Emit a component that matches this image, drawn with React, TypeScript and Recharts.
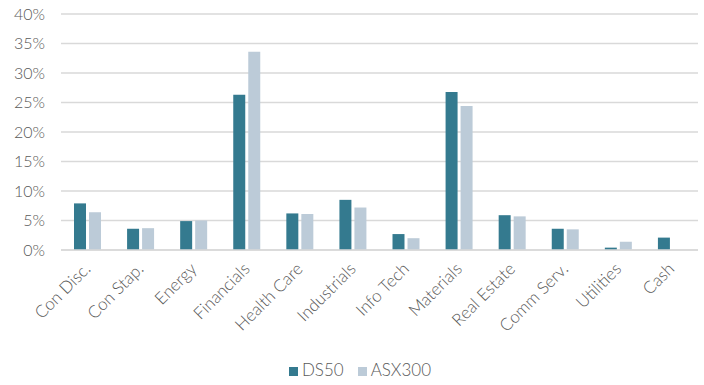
import { BarChart, Bar, XAxis, YAxis, CartesianGrid, Legend } from 'recharts'

// sector weights (percent)
const sectors = ['Con Disc.', 'Con Stap.', 'Energy', 'Financials', 'Health Care', 'Industrials', 'Info Tech', 'Materials', 'Real Estate', 'Comm Serv.', 'Utilities', 'Cash']
const ds50 = [7.9, 3.6, 4.9, 26.3, 6.2, 8.5, 2.7, 26.8, 5.9, 3.6, 0.4, 2.1]
const asx300 = [6.4, 3.7, 5.0, 33.6, 6.1, 7.2, 2.0, 24.4, 5.7, 3.5, 1.4, 0]
const yTicks = [0, 5, 10, 15, 20, 25, 30, 35, 40]
const seriesOrder = ['DS50', 'ASX300']

const data = sectors.map((name, i) => ({ name, DS50: ds50[i], ASX300: asx300[i] }))

const FONT = 'Lato, "Open Sans", sans-serif'
const TEXT = '#595959'

function SectorTick({ x, y, payload }: any) {
  return (
    <text x={x + 4} y={y + 12} transform={`rotate(-45, ${x + 4}, ${y + 12})`} textAnchor="end" fill={TEXT} fontSize={17} fontFamily={FONT} fontWeight={300}>
      {payload.value}
    </text>
  )
}

export default function App() {
  return (
    <div style={{ position: 'absolute', left: 0, top: 0, width: 704, height: 385, background: '#fff' }}>
      <BarChart width={704} height={385} data={data} margin={{ top: 14, right: 6, left: 0, bottom: 0 }} barSize={12} barGap={3}>
        <CartesianGrid vertical={false} stroke="#d9d9d9" strokeWidth={1.5} />
        <XAxis dataKey="name" interval={0} tick={<SectorTick />} tickLine={false} axisLine={{ stroke: '#d9d9d9', strokeWidth: 1.5 }} height={114} />
        <YAxis domain={[0, 40]} ticks={yTicks} tickFormatter={(v: number) => `${v}%`} width={61} axisLine={false} tickLine={false} tickMargin={10}
          tick={{ fill: TEXT, fontSize: 16, fontFamily: FONT, fontWeight: 300 }} />
        <Legend verticalAlign="bottom" iconType="square" iconSize={9}
          itemSorter={(item: any) => seriesOrder.indexOf(item.value)}
          wrapperStyle={{ fontFamily: FONT, fontSize: 17, fontWeight: 300, color: TEXT, bottom: 5, paddingLeft: 18 }}
          formatter={(v: string) => <span style={{ color: TEXT, marginRight: 4 }}>{v}</span>} />
        <Bar dataKey="DS50" fill="#347a8f" isAnimationActive={false} />
        <Bar dataKey="ASX300" fill="#bccbd8" isAnimationActive={false} />
      </BarChart>
    </div>
  )
}
